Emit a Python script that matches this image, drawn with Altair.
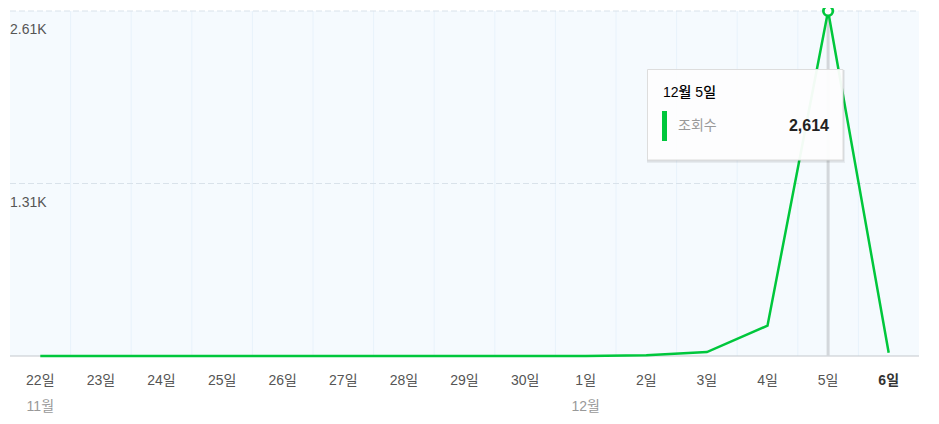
import altair as alt
import pandas as pd

# ---- data ----
day_labels = ["22일", "23일", "24일", "25일", "26일", "27일", "28일", "29일", "30일",
              "1일", "2일", "3일", "4일", "5일", "6일"]
views = [0, 0, 0, 0, 0, 0, 0, 0, 0, 0, 6, 30, 230, 2614, 25]
month_labels = ["11월", "12월"]
month_pos = [0, 9]
y_ticks = [1307, 2614]
y_tick_labels = ["1.31K", "2.61K"]
tip_title = "12월 5일"
tip_series = "조회수"
tip_value = "2,614"
focus_idx = 13

W, H = 909, 345
FONT = "Liberation Sans, Noto Sans CJK KR, sans-serif"
GREEN = "#00c73c"

idx = list(range(len(day_labels)))
df = pd.DataFrame({"idx": idx, "label": day_labels, "views": views, "zero": [0] * len(idx)})
df_norm = df.iloc[:-1]
df_last = df.iloc[-1:]
df_months = pd.DataFrame({"idx": month_pos, "label": month_labels})
df_vgrid = pd.DataFrame({"g": [i + 0.5 for i in idx[:-1]]})
df_hgrid = pd.DataFrame({"v": y_ticks, "label": y_tick_labels})
df_focus = df.iloc[[focus_idx]]
df_base = pd.DataFrame({"zero": [0]})

xs = alt.Scale(domain=[-0.5, len(day_labels) - 0.5], nice=False, zero=False)
ys = alt.Scale(domain=[0, max(views)], nice=False)


def X(f):
    return alt.X(f, type="quantitative", scale=xs, axis=None)


def Y(f):
    return alt.Y(f, type="quantitative", scale=ys, axis=None)


vgrid = alt.Chart(df_vgrid).mark_rule(color="#e8f2fb", strokeWidth=1).encode(
    x=X("g"), y=alt.value(0), y2=alt.value(H))

hgrid = alt.Chart(df_hgrid).mark_rule(color="#d9e2ea", strokeWidth=1, strokeDash=[6, 3]).encode(
    y=Y("v"), x=alt.value(0), x2=alt.value(W))

ylab = alt.Chart(df_hgrid).mark_text(align="left", baseline="middle", dy=19,
                                     font=FONT, fontSize=14, color="#555555").encode(
    y=Y("v"), x=alt.value(0), text="label:N")

baseline = alt.Chart(df_base).mark_rule(color="#c3c8cd", strokeWidth=1).encode(
    y=Y("zero"), x=alt.value(0), x2=alt.value(W))

cross = alt.Chart(df_focus).mark_rule(color="#d3d7db", strokeWidth=3).encode(
    x=X("idx"), y=Y("views"), y2="zero:Q")

line = alt.Chart(df).mark_line(color=GREEN, strokeWidth=2.5).encode(
    x=X("idx"), y=Y("views"))

peak = alt.Chart(df_focus).mark_point(shape="circle", size=90, filled=True, fill="white",
                                      stroke=GREEN, strokeWidth=2.7, opacity=1).encode(
    x=X("idx"), y=Y("views"))

xlab = alt.Chart(df_norm).mark_text(baseline="middle", font=FONT, fontSize=14,
                                    color="#555555").encode(
    x=X("idx"), y=alt.value(370), text="label:N")
xlab_last = alt.Chart(df_last).mark_text(baseline="middle", font=FONT, fontSize=14,
                                         fontWeight="bold", color="#333333").encode(
    x=X("idx"), y=alt.value(370), text="label:N")
mlab = alt.Chart(df_months).mark_text(baseline="middle", font=FONT, fontSize=14,
                                      color="#999999").encode(
    x=X("idx"), y=alt.value(396), text="label:N")

# ---- tooltip box ----
tip_df = pd.DataFrame({"t": [tip_title], "s": [tip_series], "v": [tip_value]})
tip = alt.Chart(tip_df)
shadow1 = tip.mark_rect(color="#000000", opacity=0.06).encode(
    x=alt.value(637), x2=alt.value(835), y=alt.value(59), y2=alt.value(152))
shadow2 = tip.mark_rect(color="#000000", opacity=0.08).encode(
    x=alt.value(637), x2=alt.value(834), y=alt.value(59), y2=alt.value(150.5))
box = tip.mark_rect(fill="white", fillOpacity=0.95, stroke="#dddddd", strokeWidth=1).encode(
    x=alt.value(637.5), x2=alt.value(833), y=alt.value(58.5), y2=alt.value(149))
t_title = tip.mark_text(align="left", baseline="middle", font=FONT, fontSize=14,
                        fontWeight=500, color="#000000").encode(
    x=alt.value(653), y=alt.value(82), text="t:N")
t_bar = tip.mark_rect(color=GREEN).encode(
    x=alt.value(652), x2=alt.value(657), y=alt.value(100), y2=alt.value(130))
t_series = tip.mark_text(align="left", baseline="middle", font=FONT, fontSize=14,
                         color="#999999").encode(
    x=alt.value(668), y=alt.value(115), text="s:N")
t_value = tip.mark_text(align="right", baseline="middle", font=FONT, fontSize=16,
                        fontWeight="bold", color="#222222").encode(
    x=alt.value(819), y=alt.value(115), text="v:N")

chart = alt.layer(
    vgrid, hgrid, ylab, baseline, cross, line, peak, xlab, xlab_last, mlab,
    shadow1, shadow2, box, t_title, t_bar, t_series, t_value
).properties(
    width=W, height=H,
    autosize=alt.AutoSizeParams(type="none"),
    padding={"left": 2, "top": 3, "right": 12, "bottom": 60},
    background="white",
).configure_view(stroke=None, fill="#f5fafe")

chart.save("out.html", embed_options={"renderer": "svg", "actions": False})
